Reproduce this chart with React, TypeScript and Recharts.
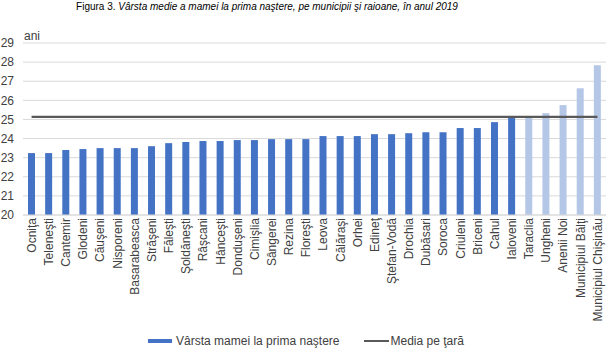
import React from "react";
import { ComposedChart, Bar, Line, XAxis, YAxis, CartesianGrid, Cell, Legend } from "recharts";

const regions = [
  "Ocniţa", "Teleneşti", "Cantemir", "Glodeni", "Căuşeni", "Nisporeni", "Basarabeasca",
  "Străşeni", "Făleşti", "Şoldăneşti", "Râşcani", "Hânceşti", "Donduşeni", "Cimişlia",
  "Sângerei", "Rezina", "Floreşti", "Leova", "Călăraşi", "Orhei", "Edineţ", "Ştefan-Vodă",
  "Drochia", "Dubăsari", "Soroca", "Criuleni", "Briceni", "Cahul", "Ialoveni", "Taraclia",
  "Ungheni", "Anenii Noi", "Municipiul Bălţi", "Municipiul Chişinău",
];

const ages = [
  23.24, 23.24, 23.4, 23.45, 23.5, 23.5, 23.5, 23.6, 23.76, 23.82, 23.87, 23.87, 23.92, 23.92,
  23.97, 23.97, 23.97, 24.13, 24.13, 24.13, 24.23, 24.23, 24.28, 24.33, 24.33, 24.55, 24.55,
  24.86, 25.1, 25.1, 25.33, 25.75, 26.63, 27.84,
];

const nationalAverage = 25.13;

const aboveAverage = ["Taraclia", "Ungheni", "Anenii Noi", "Municipiul Bălţi", "Municipiul Chişinău"];

const yTicks = [20, 21, 22, 23, 24, 25, 26, 27, 28, 29];

const barName = "Vârsta mamei la prima naştere";
const lineName = "Media pe ţară";

const data = regions.map((region, i) => ({ region, age: ages[i], media: nationalAverage }));

const FONT = '"Liberation Sans", Arial, sans-serif';
const TEXT = "#404040";
const DARK = "#4472C4";
const LIGHT = "#B4C7E7";
const LINE = "#595959";

function XTick(props: any) {
  const { x, y, payload } = props;
  return (
    <text
      x={x}
      y={y}
      transform={`rotate(-90, ${x}, ${y})`}
      textAnchor="end"
      dy="0.36em"
      fontSize={12}
      fill={TEXT}
      fontFamily={FONT}
    >
      {payload.value}
    </text>
  );
}

function LegendContent() {
  return (
    <div
      style={{
        display: "flex",
        justifyContent: "center",
        alignItems: "center",
        fontFamily: FONT,
        fontSize: 12,
        color: TEXT,
        height: 14,
        lineHeight: "14px",
        whiteSpace: "nowrap",
      }}
    >
      <span style={{ display: "inline-block", width: 24, height: 4, background: DARK, marginRight: 4 }} />
      <span>{barName}</span>
      <span style={{ display: "inline-block", width: 25, height: 2, background: LINE, marginLeft: 24, marginRight: 2 }} />
      <span>{lineName}</span>
    </div>
  );
}

export default function App() {
  return (
    <div style={{ position: "absolute", left: 0, top: 0, width: 612, height: 354, background: "#fff", overflow: "hidden" }}>
      <div
        style={{
          position: "absolute",
          left: 0,
          width: 534,
          top: 1,
          textAlign: "center",
          fontFamily: FONT,
          fontSize: 10,
          lineHeight: "12px",
          color: "#000",
          whiteSpace: "nowrap",
          zIndex: 2,
        }}
      >
        Figura 3. <i>Vârsta medie a mamei la prima naştere, pe municipii şi raioane, în anul 2019</i>
      </div>
      <ComposedChart width={612} height={354} data={data} margin={{ top: 43, right: 6, bottom: 0, left: 0 }}>
        <CartesianGrid vertical={false} stroke="#D9D9D9" strokeWidth={1} />
        <XAxis
          dataKey="region"
          interval={0}
          height={139}
          tickLine={false}
          tickSize={0}
          tickMargin={3}
          axisLine={{ stroke: "#D9D9D9" }}
          tick={<XTick />}
        />
        <YAxis
          width={23}
          domain={[20, 29]}
          ticks={yTicks}
          interval={0}
          axisLine={false}
          tickLine={false}
          tickSize={0}
          tickMargin={9}
          tick={{ fontSize: 12, fill: TEXT, fontFamily: FONT }}
          label={{
            content: () => (
              <text x={24} y={40} fontSize={12} fill={TEXT} fontFamily={FONT}>
                ani
              </text>
            ),
          }}
        />
        <Bar dataKey="age" name={barName} barSize={7} isAnimationActive={false}>
          {data.map((d) => (
            <Cell key={d.region} fill={aboveAverage.includes(d.region) ? LIGHT : DARK} />
          ))}
        </Bar>
        <Line
          dataKey="media"
          name={lineName}
          stroke={LINE}
          strokeWidth={2.3}
          dot={false}
          activeDot={false}
          isAnimationActive={false}
        />
        <Legend
          layout="horizontal"
          verticalAlign="middle"
          align="center"
          content={<LegendContent />}
          wrapperStyle={{ position: "absolute", top: 334, left: 0, width: 612, height: 14 }}
        />
      </ComposedChart>
    </div>
  );
}
